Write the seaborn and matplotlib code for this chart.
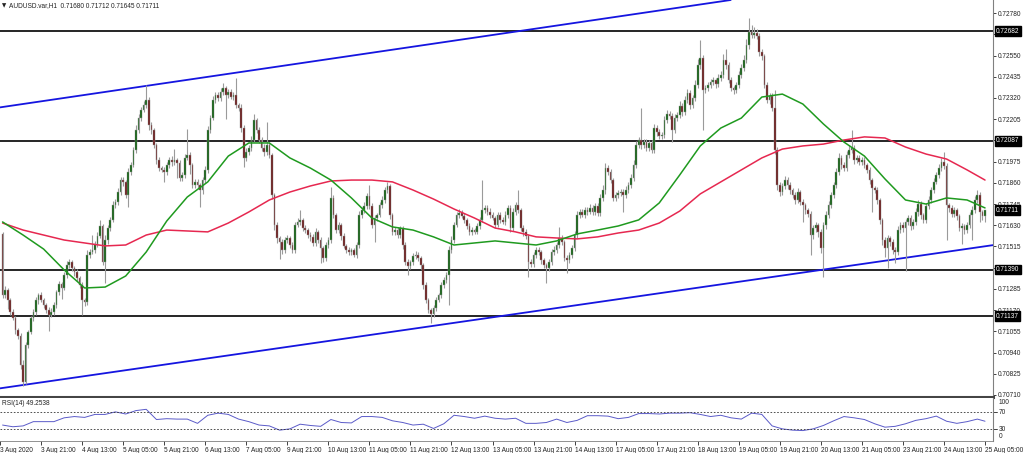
import numpy as np
import pandas as pd
import matplotlib
matplotlib.use("Agg")
import matplotlib.pyplot as plt
import matplotlib.transforms as mtransforms
import seaborn as sns

# --------------------------
# Data (prices in points, 1 pt = 0.00001)
# --------------------------
first_open = 71580

closes = [
    71252, 71279, 71225, 71160, 71127, 71062, 71030, 70873, 70781, 70981, 71052, 71127, 71160, 71225, 71252, 71225,
    71198, 71171, 71144, 71160, 71198, 71268, 71312, 71290, 71360, 71415, 71431, 71398, 71377, 71344, 71306, 71225,
    71214, 71469, 71485, 71496, 71528, 71572, 71626, 71431, 71550, 71615, 71659, 71740, 71756, 71810, 71875, 71865,
    71794, 71919, 71957, 72038, 72146, 72211, 72255, 72282, 72309, 72174, 72146, 72065, 71984, 71940, 71930, 71919,
    71957, 71984, 71973, 71984, 71968, 71886, 71903, 71995, 72011, 71957, 71848, 71865, 71848, 71821, 71875, 71930,
    72146, 72211, 72309, 72336, 72320, 72352, 72374, 72336, 72352, 72325, 72336, 72282, 72266, 72157, 71995, 72027,
    72049, 72092, 72201, 72146, 72092, 72049, 72027, 72065, 72011, 71794, 71632, 71561, 71539, 71496, 71550, 71561,
    71523, 71496, 71632, 71648, 71659, 71615, 71604, 71577, 71567, 71534, 71594, 71550, 71507, 71453, 71523, 71550,
    71778, 71686, 71604, 71632, 71572, 71518, 71496, 71485, 71496, 71469, 71523, 71686, 71713, 71734, 71789, 71734,
    71632, 71669, 71686, 71740, 71767, 71821, 71843, 71686, 71594, 71604, 71577, 71615, 71523, 71431, 71409, 71431,
    71463, 71469, 71453, 71415, 71306, 71225, 71171, 71149, 71182, 71225, 71252, 71306, 71333, 71360, 71496, 71550,
    71632, 71686, 71696, 71680, 71659, 71626, 71594, 71604, 71594, 71626, 71659, 71713, 71724, 71702, 71686, 71669,
    71632, 71686, 71659, 71648, 71686, 71724, 71615, 71702, 71740, 71713, 71615, 71594, 71572, 71431, 71420, 71469,
    71496, 71485, 71442, 71415, 71398, 71431, 71485, 71496, 71523, 71561, 71539, 71453, 71442, 71469, 71507, 71577,
    71686, 71702, 71686, 71713, 71702, 71724, 71702, 71734, 71696, 71778, 71821, 71940, 71919, 71875, 71778, 71794,
    71805, 71810, 71794, 71821, 71848, 71886, 71957, 72065, 72092, 72065, 72081, 72049, 72076, 72038, 72157, 72136,
    72114, 72119, 72201, 72233, 72222, 72146, 72211, 72228, 72276, 72244, 72309, 72347, 72282, 72320, 72390, 72499,
    72537, 72363, 72374, 72390, 72407, 72417, 72396, 72428, 72444, 72526, 72499, 72417, 72374, 72363, 72390, 72444,
    72482, 72526, 72607, 72678, 72661, 72672, 72656, 72569, 72547, 72390, 72309, 72331, 72266, 72038, 71848, 71810,
    71843, 71875, 71848, 71821, 71794, 71767, 71810, 71756, 71740, 71713, 71691, 71577, 71615, 71632, 71594, 71507,
    71632, 71686, 71740, 71794, 71848, 71919, 71995, 71957, 71940, 72011, 72038, 72049, 71984, 71995, 71973, 71984,
    71957, 71930, 71875, 71832, 71821, 71767, 71659, 71550, 71507, 71561, 71539, 71496, 71485, 71604, 71632, 71615,
    71648, 71669, 71626, 71648, 71702, 71745, 71686, 71659, 71734, 71767, 71821, 71865, 71903, 71940, 71973, 71951,
    71740, 71724, 71691, 71713, 71680, 71615, 71626, 71604, 71632, 71686, 71713, 71767, 71794, 71702, 71680, 71711,
]

# upper / lower shadow beyond the body, in points
wick_hi = [
    13, 20, 10, 8, 15, 12, 10, 18, 25, 15, 10, 12, 18, 14, 10, 16,
    12, 10, 14, 20, 15, 12, 18, 10, 14, 22, 16, 12, 10, 15, 12, 18,
    10, 25, 14, 81, 16, 20, 30, 12, 25, 18, 14, 20, 16, 24, 18, 14,
    12, 20, 15, 18, 25, 20, 16, 22, 81, 14, 18, 12, 10, 16, 12, 14,
    18, 15, 20, 60, 12, 14, 18, 20, 140, 15, 12, 18, 14, 10, 16, 20,
    20, 18, 22, 16, 14, 20, 25, 12, 18, 14, 16, 92, 12, 20, 18, 24,
    15, 20, 30, 12, 14, 18, 20, 125, 16, 12, 10, 14, 12, 18, 15, 16,
    12, 14, 18, 20, 54, 12, 16, 10, 14, 18, 20, 12, 14, 10, 16, 18,
    60, 14, 12, 18, 10, 14, 12, 16, 10, 12, 18, 20, 16, 22, 18, 59,
    14, 18, 12, 16, 20, 14, 22, 12, 10, 16, 14, 12, 10, 14, 18, 12,
    16, 20, 14, 12, 10, 14, 12, 10, 16, 14, 12, 18, 14, 16, 20, 22,
    18, 16, 20, 14, 18, 12, 16, 14, 12, 18, 16, 162, 18, 14, 20, 16,
    12, 18, 14, 16, 20, 18, 14, 22, 16, 81, 12, 14, 16, 10, 14, 18,
    16, 14, 12, 10, 12, 18, 16, 20, 18, 59, 14, 12, 16, 14, 18, 20,
    22, 16, 18, 14, 16, 20, 18, 14, 16, 20, 25, 30, 16, 14, 12, 18,
    16, 14, 18, 20, 16, 22, 25, 20, 18, 174, 16, 18, 14, 16, 24, 18,
    16, 14, 22, 20, 18, 14, 20, 18, 25, 16, 20, 22, 14, 18, 25, 30,
    97, 14, 16, 18, 14, 16, 12, 20, 22, 30, 60, 16, 14, 12, 18, 22,
    20, 25, 30, 75, 40, 30, 22, 14, 16, 12, 18, 14, 16, 97, 14, 16,
    18, 20, 16, 14, 12, 14, 20, 12, 14, 10, 12, 14, 16, 18, 12, 14,
    18, 20, 22, 16, 18, 20, 25, 14, 16, 22, 25, 97, 14, 18, 16, 14,
    16, 12, 14, 10, 12, 14, 12, 10, 14, 16, 12, 14, 16, 20, 18, 14,
    16, 18, 14, 16, 20, 22, 14, 12, 18, 20, 16, 22, 18, 20, 24, 54,
    14, 12, 16, 14, 12, 10, 14, 12, 16, 18, 20, 22, 27, 14, 12, 1,
]
wick_lo = [
    14, 16, 50, 18, 12, 20, 16, 20, 25, 14, 18, 12, 16, 14, 20, 12,
    16, 14, 89, 12, 18, 14, 16, 60, 12, 18, 14, 16, 20, 14, 18, 81,
    20, 14, 16, 12, 18, 14, 12, 16, 114, 20, 14, 12, 16, 14, 18, 20,
    14, 65, 16, 12, 18, 14, 16, 12, 14, 28, 20, 16, 22, 18, 14, 57,
    16, 14, 20, 18, 80, 16, 14, 18, 12, 50, 16, 14, 18, 92, 20, 14,
    18, 16, 12, 14, 18, 16, 14, 130, 16, 12, 14, 18, 16, 20, 49, 18,
    14, 16, 12, 18, 14, 16, 20, 14, 18, 22, 30, 25, 90, 20, 18, 16,
    18, 14, 16, 12, 14, 18, 16, 14, 20, 18, 16, 14, 82, 20, 16, 14,
    16, 18, 14, 16, 20, 14, 18, 16, 14, 12, 16, 14, 18, 16, 14, 18,
    16, 93, 14, 12, 16, 14, 18, 20, 16, 18, 14, 16, 20, 18, 49, 16,
    14, 16, 18, 20, 22, 16, 18, 49, 14, 16, 12, 18, 16, 14, 160, 18,
    16, 14, 18, 12, 16, 14, 18, 16, 14, 12, 16, 14, 18, 16, 14, 12,
    18, 14, 16, 12, 14, 16, 20, 14, 18, 16, 14, 20, 18, 81, 16, 14,
    18, 16, 20, 18, 81, 16, 14, 18, 16, 14, 16, 18, 71, 16, 14, 16,
    14, 16, 12, 14, 16, 12, 14, 16, 18, 14, 16, 20, 18, 16, 14, 18,
    16, 14, 92, 16, 14, 18, 16, 14, 18, 20, 16, 14, 18, 16, 14, 20,
    18, 16, 14, 18, 16, 65, 18, 16, 14, 20, 18, 16, 20, 14, 16, 18,
    20, 217, 18, 16, 14, 18, 20, 16, 14, 18, 20, 16, 14, 22, 18, 16,
    14, 16, 18, 20, 16, 14, 18, 22, 20, 18, 16, 20, 18, 22, 25, 20,
    18, 16, 20, 22, 18, 20, 16, 18, 92, 20, 16, 108, 22, 20, 25, 30,
    157, 20, 18, 16, 14, 18, 16, 20, 18, 14, 16, 18, 20, 16, 18, 14,
    16, 18, 20, 130, 18, 20, 22, 25, 50, 109, 20, 22, 60, 18, 16, 20,
    233, 18, 20, 16, 18, 20, 22, 18, 16, 14, 18, 16, 14, 18, 16, 14,
    190, 20, 18, 16, 20, 18, 87, 20, 18, 16, 136, 18, 16, 54, 20, 35,
]

# moving averages read every 8 bars (+ last bar)
ma_bars = list(range(0, 384, 8)) + [383]
ma_fast = [
    71648, 71577, 71501, 71388, 71290, 71295, 71355, 71485, 71653, 71783, 71865, 72005, 72076, 72076, 71995, 71940,
    71875, 71778, 71669, 71621, 71604, 71567, 71523, 71534, 71545, 71534, 71523, 71545, 71583, 71604, 71626, 71659,
    71751, 71903, 72060, 72157, 72211, 72325, 72341, 72287, 72179, 72081, 72005, 71881, 71767, 71745, 71778, 71767,
    71724,
]
ma_slow = [
    71642, 71604, 71577, 71550, 71534, 71518, 71523, 71577, 71604, 71599, 71594, 71642, 71702, 71767, 71810, 71843,
    71870, 71875, 71875, 71865, 71821, 71772, 71718, 71669, 71615, 71594, 71567, 71561, 71556, 71567, 71588, 71604,
    71642, 71707, 71800, 71865, 71930, 71995, 72043, 72060, 72070, 72092, 72109, 72103, 72054, 72016, 71989, 71930,
    71875,
]

# RSI(14) read every 4 bars (+ last bar)
rsi_bars = list(range(0, 384, 4)) + [383]
rsi_vals = [
    40, 36, 38, 48, 48, 48, 57, 60, 58, 65, 65, 71, 66, 74, 77, 53,
    55, 54, 54, 44, 63, 68, 65, 54, 48, 40, 38, 28, 31, 42, 39, 37,
    53, 46, 45, 60, 60, 58, 50, 46, 40, 42, 32, 43, 63, 60, 56, 61,
    56, 54, 56, 44, 44, 46, 54, 46, 51, 62, 62, 61, 55, 58, 67, 67,
    66, 68, 68, 69, 65, 60, 63, 57, 54, 68, 65, 38, 31, 28, 27, 31,
    39, 50, 60, 57, 53, 43, 35, 37, 43, 51, 55, 61, 49, 44, 48, 54,
    49,
]

h_levels = [0.72682, 0.72087, 0.71390, 0.71137]
last_price = 0.71711
upper_channel = [(0, 0.72271), (300, 0.72884)]
lower_channel = [(0, 0.70748), (383, 0.71516)]

price_ticks = [0.70710, 0.70825, 0.70940, 0.71055, 0.71170, 0.71285, 0.71400, 0.71515, 0.71630, 0.71745,
               0.71860, 0.71975, 0.72090, 0.72205, 0.72320, 0.72435, 0.72550, 0.72665, 0.72780]
hidden_ticks = [0.71400, 0.72090, 0.72665]   # labels sit under the level boxes
rsi_levels = [70, 30]
time_ticks = list(range(-1, 384, 16))
time_labels = ["3 Aug 2020", "3 Aug 21:00", "4 Aug 13:00", "5 Aug 05:00", "5 Aug 21:00", "6 Aug 13:00",
               "7 Aug 05:00", "9 Aug 21:00", "10 Aug 13:00", "11 Aug 05:00", "11 Aug 21:00", "12 Aug 13:00",
               "13 Aug 05:00", "13 Aug 21:00", "14 Aug 13:00", "17 Aug 05:00", "17 Aug 21:00", "18 Aug 13:00",
               "19 Aug 05:00", "19 Aug 21:00", "20 Aug 13:00", "21 Aug 05:00", "23 Aug 21:00", "24 Aug 13:00",
               "25 Aug 05:00"]

# --------------------------
# Build OHLC table
# --------------------------
df = pd.DataFrame({'close': np.array(closes) / 1e5})
df['bar'] = np.arange(len(df))
df['open'] = df['close'].shift(1).fillna(first_open / 1e5)
df['high'] = df[['open', 'close']].max(axis=1) + np.array(wick_hi) / 1e5
df['low'] = df[['open', 'close']].min(axis=1) - np.array(wick_lo) / 1e5

sns.set_theme(style="white")
plt.rcParams['font.family'] = ['Liberation Sans', 'DejaVu Sans']
FS = 4.7
TXT = '#222222'

fig = plt.figure(figsize=(10.24, 4.53), dpi=100)
ax = fig.add_axes([0, 0.1236, 0.9697, 0.8764])
ax_r = fig.add_axes([0, 0.0265, 0.9697, 0.0949], sharex=ax)

# levels and channel
for lv in h_levels:
    ax.axhline(lv, color='black', lw=1.2, zorder=1)
ax.axline(upper_channel[0], upper_channel[1], color='#1515e0', lw=1.3, zorder=1)
ax.axline(lower_channel[0], lower_channel[1], color='#1515e0', lw=1.3, zorder=1)

# candles
ax.vlines(df['bar'], df['low'], df['high'], color='#9a9a9a', lw=0.8, zorder=2)
up = df['close'] >= df['open']
body = (df['close'] - df['open']).abs().clip(lower=0.000015)
bottom = df[['open', 'close']].min(axis=1)
ax.bar(df['bar'][up], body[up], bottom=bottom[up], width=0.65, color='#0c5e0c',
       edgecolor='#9a9a9a', linewidth=0.3, zorder=3)
ax.bar(df['bar'][~up], body[~up], bottom=bottom[~up], width=0.65, color='#6a1616',
       edgecolor='#9a9a9a', linewidth=0.3, zorder=3)

# moving averages
sns.lineplot(x=ma_bars, y=np.array(ma_slow) / 1e5, ax=ax, color='#e62850', lw=1.1, zorder=4)
sns.lineplot(x=ma_bars, y=np.array(ma_fast) / 1e5, ax=ax, color='#1f9a1f', lw=1.1, zorder=4)

ax.set_xlim(-0.3, 386.1)
ax.set_ylim(0.70699, 0.72851)
ax.yaxis.tick_right()
ax.set_yticks(price_ticks)
ax.set_yticklabels(["" if t in hidden_ticks else f"{t:.5f}" for t in price_ticks])
ax.tick_params(axis='y', right=True, labelsize=FS, length=2, width=0.6, pad=1.5, colors=TXT)
ax.tick_params(axis='x', bottom=False, labelbottom=False)
ax.set_xlabel("")
ax.set_ylabel("")
for s in ['left', 'top']:
    ax.spines[s].set_visible(False)
ax.spines['right'].set_color('#808080')
ax.spines['right'].set_linewidth(0.8)
ax.spines['bottom'].set_color('#454545')
ax.spines['bottom'].set_linewidth(2.2)

# price boxes on the right scale
trans = mtransforms.blended_transform_factory(ax.transAxes, ax.transData)
for lv in h_levels + [last_price]:
    ax.text(1.003, lv, f"{lv:.5f}", transform=trans, ha='left', va='center', fontsize=FS,
            color='white', clip_on=False, zorder=10,
            bbox=dict(boxstyle='square,pad=0.22', fc='black', ec='black'))

ax.text(2 / 993, 0.992, "\u25bc", transform=ax.transAxes, ha='left', va='top', fontsize=4,
        color=TXT, family=['DejaVu Sans'])
ax.text(9 / 993, 0.995, "AUDUSD.var,H1  0.71680 0.71712 0.71645 0.71711", transform=ax.transAxes,
        ha='left', va='top', fontsize=FS, color=TXT)

# RSI panel
sns.lineplot(x=rsi_bars, y=rsi_vals, ax=ax_r, color='#5a5ac8', lw=0.7)
for lv in rsi_levels:
    ax_r.axhline(lv, color='#333333', lw=0.6, ls=(0, (2, 2)))
ax_r.set_ylim(2.5, 103.6)
ax_r.set_yticks([])
ax_r.set_xlabel("")
ax_r.set_ylabel("")
ax_r.text(2 / 993, 0.95, "RSI(14) 49.2538", transform=ax_r.transAxes, ha='left', va='top',
          fontsize=FS, color=TXT)
trans_r = mtransforms.blended_transform_factory(ax_r.transAxes, ax_r.transData)
for val, txt in [(92, "100"), (70, "70"), (30, "30"), (12, "0")]:
    ax_r.text(1.006, val, txt, transform=trans_r, ha='left', va='center', fontsize=FS,
              color=TXT, clip_on=False)
    if txt in ("70", "30"):
        ax_r.plot([1.0, 1.004], [val, val], transform=trans_r, color=TXT, lw=0.6,
                  clip_on=False)

ax_r.set_xticks(time_ticks)
ax_r.set_xticklabels(time_labels, ha='left')
ax_r.tick_params(axis='x', bottom=True, labelsize=FS, length=3, width=0.6, pad=1, colors=TXT)
for s in ['left', 'top']:
    ax_r.spines[s].set_visible(False)
ax_r.spines['right'].set_color('#808080')
ax_r.spines['right'].set_linewidth(0.8)
ax_r.spines['bottom'].set_color('#808080')
ax_r.spines['bottom'].set_linewidth(0.6)

fig.savefig("out.png", dpi=100)
